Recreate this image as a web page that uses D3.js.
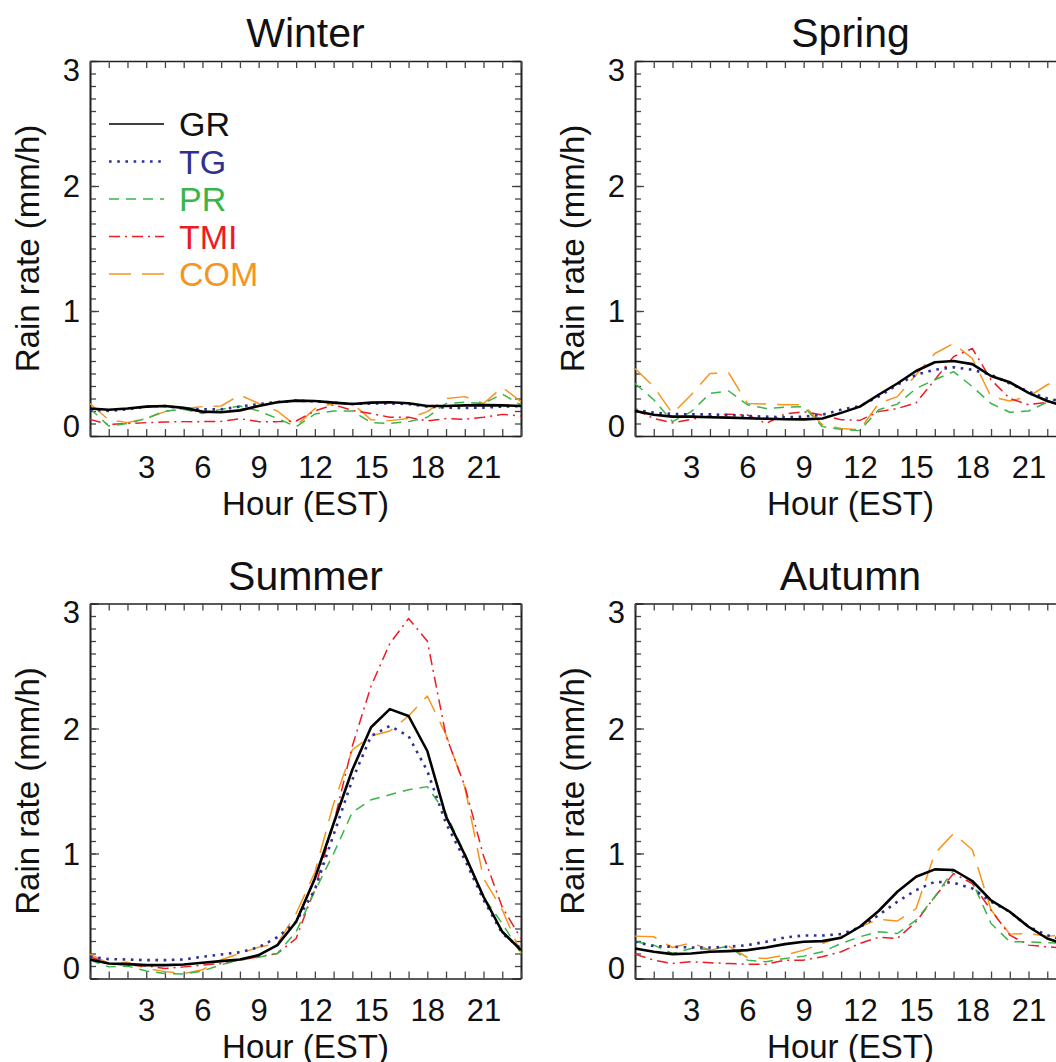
<!DOCTYPE html>
<html>
<head>
<meta charset="utf-8">
<script src="https://cdn.jsdelivr.net/npm/d3@7"></script>
<style>
  body { margin: 0; background: #fff; }
  svg { display: block; font-family: "Liberation Sans", Arial, Helvetica, sans-serif; }
</style>
</head>
<body>
<div id="chart"></div>
<script>
/* Values: diurnal rain rate (mm/h) per hour, EST */
const hours = [0, 1, 2, 3, 4, 5, 6, 7, 8, 9, 10, 11, 12, 13, 14, 15, 16, 17, 18, 19, 20, 21, 22, 23];
const seasons = ["Winter", "Spring", "Summer", "Autumn"];
const seriesNames = ["GR", "TG", "PR", "TMI", "COM"];
const xTickLabels = [3, 6, 9, 12, 15, 18, 21];
const yTickLabels = [0, 1, 2, 3];

const winterGR  = [0.22, 0.21, 0.22, 0.235, 0.24, 0.225, 0.195, 0.19, 0.205, 0.24, 0.27, 0.283, 0.28, 0.267, 0.256, 0.267, 0.27, 0.262, 0.24, 0.24, 0.245, 0.247, 0.245, 0.24];
const winterTG  = [0.213, 0.2, 0.213, 0.235, 0.24, 0.22, 0.213, 0.213, 0.235, 0.256, 0.272, 0.283, 0.277, 0.267, 0.256, 0.26, 0.26, 0.256, 0.235, 0.227, 0.224, 0.227, 0.235, 0.24];
const winterPR  = [0.22, 0.08, 0.1, 0.14, 0.2, 0.213, 0.18, 0.213, 0.24, 0.2, 0.14, 0.075, 0.176, 0.2, 0.2, 0.107, 0.1, 0.115, 0.15, 0.26, 0.27, 0.26, 0.336, 0.248];
const winterTMI = [0.133, 0.093, 0.1, 0.107, 0.112, 0.115, 0.115, 0.117, 0.139, 0.115, 0.115, 0.12, 0.2, 0.25, 0.205, 0.18, 0.15, 0.15, 0.12, 0.14, 0.133, 0.15, 0.173, 0.16];
const winterCOM = [0.26, 0.128, 0.107, 0.14, 0.195, 0.22, 0.235, 0.24, 0.328, 0.26, 0.2, 0.08, 0.22, 0.26, 0.26, 0.13, 0.123, 0.14, 0.195, 0.3, 0.315, 0.26, 0.39, 0.275];

const springGR  = [0.2, 0.17, 0.155, 0.155, 0.15, 0.147, 0.142, 0.138, 0.134, 0.133, 0.14, 0.185, 0.235, 0.33, 0.42, 0.52, 0.59, 0.6, 0.575, 0.48, 0.43, 0.345, 0.28, 0.235];
const springTG  = [0.21, 0.187, 0.176, 0.173, 0.173, 0.168, 0.16, 0.155, 0.15, 0.155, 0.17, 0.21, 0.24, 0.315, 0.41, 0.49, 0.53, 0.55, 0.53, 0.49, 0.42, 0.355, 0.3, 0.27];
const springPR  = [0.42, 0.29, 0.115, 0.195, 0.34, 0.36, 0.25, 0.22, 0.23, 0.235, 0.075, 0.053, 0.043, 0.21, 0.255, 0.38, 0.45, 0.515, 0.395, 0.26, 0.19, 0.2, 0.27, 0.32];
const springTMI = [0.21, 0.14, 0.105, 0.133, 0.16, 0.175, 0.168, 0.1, 0.176, 0.195, 0.168, 0.13, 0.125, 0.195, 0.22, 0.265, 0.45, 0.635, 0.7, 0.45, 0.3, 0.25, 0.27, 0.29];
const springCOM = [0.54, 0.395, 0.18, 0.33, 0.5, 0.505, 0.26, 0.255, 0.25, 0.25, 0.09, 0.06, 0.05, 0.26, 0.315, 0.49, 0.66, 0.74, 0.62, 0.315, 0.28, 0.315, 0.41, 0.48];

const summerGR  = [0.152, 0.12, 0.115, 0.107, 0.107, 0.112, 0.126, 0.139, 0.152, 0.187, 0.267, 0.454, 0.8, 1.24, 1.67, 2.01, 2.155, 2.1, 1.82, 1.295, 0.99, 0.654, 0.374, 0.227];
const summerTG  = [0.174, 0.155, 0.152, 0.147, 0.147, 0.152, 0.174, 0.192, 0.21, 0.25, 0.33, 0.454, 0.71, 1.15, 1.59, 1.94, 2.02, 1.94, 1.66, 1.24, 0.95, 0.63, 0.36, 0.24];
const summerPR  = [0.147, 0.093, 0.1, 0.06, 0.04, 0.035, 0.06, 0.11, 0.147, 0.17, 0.2, 0.374, 0.7, 1.0, 1.33, 1.43, 1.47, 1.51, 1.535, 1.32, 1.0, 0.65, 0.44, 0.2];
const summerTMI = [0.174, 0.12, 0.107, 0.1, 0.08, 0.093, 0.107, 0.12, 0.147, 0.174, 0.2, 0.32, 0.72, 1.24, 1.86, 2.34, 2.68, 2.88, 2.7, 1.94, 1.54, 0.98, 0.57, 0.32];
const summerCOM = [0.195, 0.12, 0.13, 0.08, 0.055, 0.04, 0.07, 0.15, 0.2, 0.25, 0.28, 0.52, 0.85, 1.4, 1.83, 1.94, 1.98, 2.1, 2.26, 1.95, 1.53, 0.8, 0.55, 0.2];

const autumnGR  = [0.24, 0.214, 0.195, 0.2, 0.214, 0.219, 0.227, 0.248, 0.275, 0.294, 0.299, 0.326, 0.414, 0.54, 0.694, 0.814, 0.873, 0.868, 0.78, 0.625, 0.534, 0.414, 0.32, 0.27];
const autumnTG  = [0.294, 0.259, 0.254, 0.248, 0.248, 0.254, 0.267, 0.294, 0.328, 0.344, 0.344, 0.355, 0.409, 0.507, 0.614, 0.707, 0.774, 0.766, 0.721, 0.614, 0.534, 0.414, 0.347, 0.3];
const autumnPR  = [0.294, 0.267, 0.2, 0.24, 0.232, 0.259, 0.147, 0.134, 0.16, 0.179, 0.214, 0.28, 0.334, 0.374, 0.36, 0.467, 0.654, 0.868, 0.774, 0.44, 0.294, 0.294, 0.286, 0.28];
const autumnTMI = [0.195, 0.147, 0.12, 0.134, 0.126, 0.12, 0.115, 0.115, 0.147, 0.147, 0.174, 0.214, 0.28, 0.33, 0.32, 0.454, 0.654, 0.84, 0.76, 0.547, 0.347, 0.267, 0.254, 0.24];
const autumnCOM = [0.339, 0.334, 0.248, 0.286, 0.227, 0.259, 0.168, 0.16, 0.187, 0.227, 0.28, 0.334, 0.414, 0.473, 0.46, 0.56, 1.0, 1.16, 1.03, 0.55, 0.355, 0.36, 0.339, 0.345];

const seasonData = {
  Winter: [winterGR, winterTG, winterPR, winterTMI, winterCOM],
  Spring: [springGR, springTG, springPR, springTMI, springCOM],
  Summer: [summerGR, summerTG, summerPR, summerTMI, summerCOM],
  Autumn: [autumnGR, autumnTG, autumnPR, autumnTMI, autumnCOM]
};

/* Line styles for each product */
const styles = {
  GR:  {color: "#000000", text: "#111111", width: 2.6, legendWidth: 1.6, dash: null},
  TG:  {color: "#2e3192", text: "#2e3192", width: 2.6, legendWidth: 2.6, dash: "2.6,5.6"},
  PR:  {color: "#39b54a", text: "#39b54a", width: 1.5, legendWidth: 1.6, dash: "10,7"},
  TMI: {color: "#ed1c24", text: "#ed1c24", width: 1.5, legendWidth: 1.6, dash: "11,5,2,5"},
  COM: {color: "#f7941d", text: "#f7941d", width: 1.5, legendWidth: 1.6, dash: "22,11"}
};

const width = 1056, height = 1062;
const panelW = 431, panelH = 375;
const panelPos = {Winter: [90, 61], Spring: [635, 61], Summer: [90, 603.5], Autumn: [635, 603.5]};

const svg = d3.select("#chart").append("svg")
  .attr("width", width)
  .attr("height", height)
  .attr("viewBox", [0, 0, width, height]);

const x = d3.scaleLinear().domain([0, 23]).range([0, panelW]);
const y = d3.scaleLinear().domain([0, 3]).range([panelH, 0]);

const line = d3.line()
  .x((d, i) => x(hours[i]))
  .y(d => y(d));

const styleAxis = g => {
  g.select(".domain").attr("stroke", "#222").attr("stroke-width", 1.6);
  g.selectAll(".tick line").attr("stroke", "#444").attr("stroke-width", 1.3);
  g.selectAll(".tick text")
    .attr("fill", "#111")
    .style("font-size", "31px")
    .style("font-family", "'Liberation Sans', Arial, sans-serif");
};

seasons.forEach((season, si) => {
  const [px, py] = panelPos[season];
  const g = svg.append("g").attr("transform", `translate(${px},${py})`);

  // minor ticks on all four sides
  g.append("g").call(d3.axisLeft(y).ticks(30).tickSize(-6).tickSizeOuter(0).tickFormat("")).call(styleAxis);
  g.append("g").attr("transform", `translate(${panelW},0)`)
    .call(d3.axisRight(y).ticks(30).tickSize(-6).tickSizeOuter(0).tickFormat("")).call(styleAxis);

  // major y ticks + labels
  const yAxisG = g.append("g")
    .call(d3.axisLeft(y).tickValues(yTickLabels).tickSize(-9).tickSizeOuter(0).tickPadding(10).tickFormat(d3.format("d")))
    .call(styleAxis);
  // keep end labels inside the axis range
  yAxisG.selectAll(".tick text")
    .attr("dy", d => d === 0 ? "0em" : d === 3 ? "0.62em" : "0.34em");

  g.append("g").attr("transform", `translate(${panelW},0)`)
    .call(d3.axisRight(y).tickValues(yTickLabels).tickSize(-9).tickSizeOuter(0).tickFormat(""))
    .call(styleAxis);

  // hour ticks
  g.append("g").attr("transform", `translate(0,${panelH})`)
    .call(d3.axisBottom(x).tickValues(hours).tickSize(-7).tickSizeOuter(0).tickPadding(20)
      .tickFormat(d => xTickLabels.includes(d) ? d : ""))
    .call(styleAxis);
  g.append("g")
    .call(d3.axisTop(x).tickValues(hours).tickSize(-7).tickSizeOuter(0).tickFormat(""))
    .call(styleAxis);

  // series lines, GR drawn last so it sits on top
  seriesNames.slice().reverse().forEach(name => {
    const k = seriesNames.indexOf(name);
    const s = styles[name];
    g.append("path")
      .datum(seasonData[season][k])
      .attr("d", line)
      .attr("fill", "none")
      .attr("stroke", s.color)
      .attr("stroke-width", s.width)
      .attr("stroke-linejoin", "round")
      .attr("stroke-dasharray", s.dash);
  });

  // titles
  g.append("text")
    .attr("x", panelW / 2)
    .attr("y", -14)
    .attr("text-anchor", "middle")
    .style("font-size", "41px")
    .attr("fill", "#111")
    .text(season);

  g.append("text")
    .attr("x", panelW / 2)
    .attr("y", panelH + 79)
    .attr("text-anchor", "middle")
    .style("font-size", "33px")
    .attr("fill", "#111")
    .text("Hour (EST)");

  g.append("text")
    .attr("transform", `translate(-51,${panelH / 2}) rotate(-90)`)
    .attr("text-anchor", "middle")
    .style("font-size", "33px")
    .attr("fill", "#111")
    .text("Rain rate (mm/h)");

  // legend in the first panel
  if (si === 0) {
    const legend = g.append("g").attr("transform", "translate(19,63)");
    seriesNames.forEach((name, i) => {
      const s = styles[name];
      const row = legend.append("g").attr("transform", `translate(0,${i * 37.5})`);
      row.append("line")
        .attr("x1", 0).attr("x2", 55)
        .attr("stroke", s.color)
        .attr("stroke-width", s.legendWidth)
        .attr("stroke-dasharray", s.dash);
      row.append("text")
        .attr("x", 70)
        .attr("dy", "0.36em")
        .style("font-size", "34px")
        .attr("fill", s.text)
        .text(name);
    });
  }
});
</script>
</body>
</html>
